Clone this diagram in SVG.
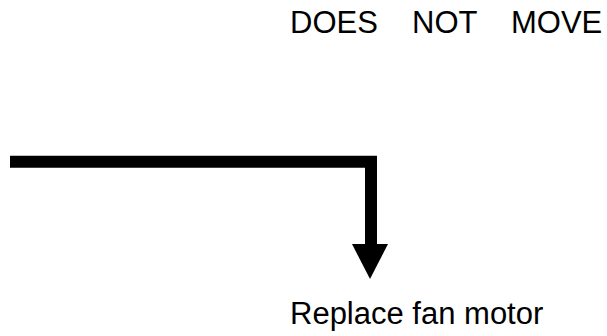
<svg xmlns="http://www.w3.org/2000/svg" width="607" height="336" viewBox="0 0 607 336">
<style>
.t{font-family:"Liberation Sans",Arial,sans-serif;font-size:31px;fill:#000}
</style>
<rect width="607" height="336" fill="#fff"/>
<g id="top-label"><text class="t" y="33"><tspan x="290">DOES</tspan><tspan x="412">NOT</tspan><tspan x="511">MOVE</tspan></text></g>
<g id="bottom-label"><text class="t" x="290" y="324">Replace fan motor</text></g>
<g id="connectors">
<path d="M10,161.7 H371 V246" fill="none" stroke="#000" stroke-width="12"/>
<polygon points="352,244 388,244 370,279"/>
</g>
</svg>
